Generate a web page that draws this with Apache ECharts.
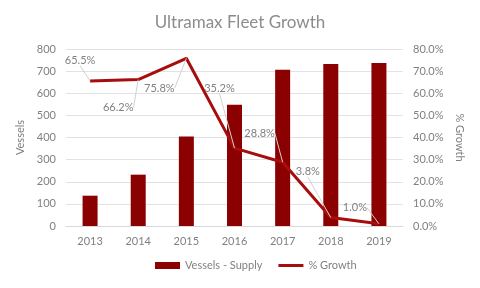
<!DOCTYPE html>
<html>
<head>
<meta charset="utf-8">
<script src="https://cdn.jsdelivr.net/npm/echarts@6/dist/echarts.min.js"></script>
<style>
	html, body { margin: 0; padding: 0; background: #fff; }
	#chart { width: 480px; height: 288px; }
</style>
</head>
<body>
<div id="chart"></div>
<script>
const years = ["2013", "2014", "2015", "2016", "2017", "2018", "2019"];
const vessels = [137, 232, 405, 548, 706, 732, 737];
const growth = [65.5, 66.2, 75.8, 35.2, 28.8, 3.8, 1.0];

// where each data label sits relative to its point (px), as in the original
const labelShift = [
	[-10, -21],
	[-20, 28],
	[-27, 30],
	[-15, -60],
	[-23, -29],
	[-23, -46],
	[-24, -16],
];

const font = "Lato, 'Open Sans', sans-serif";
const grey = "#808080";

const chart = echarts.init(document.getElementById("chart"));

chart.setOption({
	animation: false,
	textStyle: { fontFamily: font },
	title: {
		text: "Ultramax Fleet Growth",
		left: "center",
		top: 9,
		textStyle: { fontFamily: font, fontSize: 17, fontWeight: "normal", color: "#8c8c8c" },
	},
	grid: { left: 66, right: 77, top: 49, bottom: 62 },
	legend: {
		bottom: 12,
		left: 150,
		itemWidth: 25,
		itemHeight: 7,
		itemGap: 16,
		textStyle: { fontFamily: font, fontSize: 11, color: grey },
		data: [
			{ name: "Vessels - Supply", icon: "rect" },
			{ name: "% Growth", icon: "path://M0,0H25V3H0Z" },
		],
	},
	xAxis: {
		type: "category",
		data: years,
		axisTick: { show: false },
		axisLine: { lineStyle: { color: "#d9d9d9" } },
		axisLabel: { color: grey, fontSize: 11, margin: 10 },
	},
	yAxis: [
		{
			type: "value",
			min: 0,
			max: 800,
			interval: 100,
			name: "Vessels",
			nameLocation: "middle",
			nameGap: 21,
			nameTextStyle: { color: grey, fontSize: 11 },
			axisLabel: { color: grey, fontSize: 11, margin: 10 },
			splitLine: { lineStyle: { color: "#e3e3e3" } },
		},
		{
			type: "value",
			min: 0,
			max: 80,
			interval: 10,
			name: "% Growth",
			nameLocation: "middle",
			nameGap: 34,
			nameRotate: -90,
			nameTextStyle: { color: grey, fontSize: 11 },
			axisLabel: { color: grey, fontSize: 11, margin: 10, formatter: (v) => v.toFixed(1) + "%" },
			splitLine: { show: false },
		},
	],
	series: [
		{
			name: "Vessels - Supply",
			type: "bar",
			data: vessels,
			barWidth: 15,
			itemStyle: { color: "#8b0000" },
		},
		{
			name: "% Growth",
			type: "line",
			yAxisIndex: 1,
			data: growth,
			symbol: "circle",
			symbolSize: 0.1,
			lineStyle: { color: "#a80d0d", width: 3 },
			itemStyle: { color: "#a80d0d" },
			label: {
				show: true,
				position: "top",
				color: grey,
				fontSize: 11,
				formatter: (p) => p.value.toFixed(1) + "%",
			},
			labelLine: { show: true, lineStyle: { color: "#d0d0d0", width: 1 } },
			labelLayout: (p) => {
				const s = labelShift[p.dataIndex];
				return {
					x: p.rect.x + p.rect.width / 2 + s[0],
					y: p.rect.y + p.rect.height / 2 + s[1],
					align: "center",
					verticalAlign: "middle",
				};
			},
		},
	],
});
</script>
</body>
</html>
